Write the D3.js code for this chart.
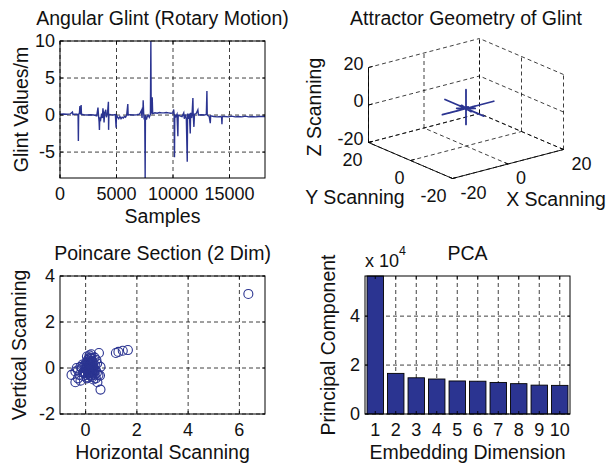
<!DOCTYPE html>
<html lang="en">
<head>
<meta charset="UTF-8" />
<title>Glint analysis</title>
<style>
  body { margin: 0; background: #fff; }
  svg { display: block; font-family: "Liberation Sans", Arial, sans-serif; }
  .grid line { stroke: #000; stroke-width: 0.75; stroke-dasharray: 4,3; fill: none; }
  .frame { fill: none; stroke: #000; stroke-width: 1; }
  .ticks line { stroke: #000; stroke-width: 0.9; }
  .tick-label { font-size: 18px; fill: #111; }
  .label { font-size: 19.5px; fill: #111; }
</style>
</head>
<body>
<svg width="608" height="465"></svg>
<script src="https://d3js.org/d3.v7.min.js"></script>
<script>
// ---- data ----
// angular glint signal, [sample, value]
const glint = [
  [0,0.1],[300,0.15],[600,0.1],[900,0.15],[1100,0.4],[1150,0.05],[1300,0.1],[1500,0.1],[1600,0.05],
  [1625,-3.5],[1650,0.1],[1720,0.3],[1760,1.2],[1790,0.1],[1830,0.4],[1870,1.35],[1900,0.1],[2100,0.05],
  [2400,0.0],[2700,0.05],[3000,0.0],[3250,-0.1],[3320,0.6],[3360,1.0],[3400,0.1],[3460,-0.9],[3490,-2.0],
  [3520,-0.3],[3600,-0.6],[3680,0.2],[3750,-0.4],[3800,0.9],[3850,0.2],[3900,-1.0],[3950,0.3],[4050,0.7],
  [4100,-0.3],[4200,0.2],[4285,1.8],[4300,-2.0],[4330,0.1],[4500,0.05],[4700,0.0],[4900,0.05],[4965,-1.7],
  [5000,0.0],[5100,-0.3],[5200,-0.5],[5300,-0.2],[5400,-0.5],[5500,-0.3],[5600,-0.4],[5700,-0.2],[5800,-0.3],
  [5900,0.0],[6000,1.5],[6030,0.0],[6200,0.05],[6500,0.0],[6800,0.05],[7000,0.1],[7100,0.3],[7200,0.6],
  [7260,-0.4],[7300,1.0],[7340,0.5],[7360,2.0],[7400,0.3],[7450,-0.6],[7500,-0.2],[7535,-8.5],[7560,0.0],
  [7650,-0.6],[7700,-0.3],[7800,0.0],[7900,-0.3],[8000,0.1],[8040,10],[8070,0.2],[8120,0.4],[8160,2.4],
  [8200,0.2],[8400,0.3],[8600,0.25],[8800,0.35],[9000,0.3],[9200,0.3],[9400,0.35],[9600,0.3],[9800,0.25],
  [10000,0.3],[10060,0.75],[10100,0.1],[10130,-5.7],[10160,0.0],[10250,-0.2],[10350,0.1],[10430,-2.85],
  [10460,0.0],[10600,-0.1],[10800,-0.2],[10950,0.3],[11000,-0.5],[11100,0.1],[11180,-0.6],[11260,-6.3],
  [11290,0.2],[11400,-0.5],[11450,0.2],[11525,-2.5],[11560,0.3],[11650,-0.4],[11700,0.5],[11760,2.3],
  [11790,0.0],[11850,-1.6],[11900,0.1],[12050,0.2],[12200,0.7],[12250,0.0],[12500,0.05],[12800,0.0],
  [12950,0.1],[13000,3.25],[13030,0.0],[13200,-0.2],[13300,-1.1],[13330,-0.1],[13600,-0.2],[13900,-0.25],
  [14200,-0.2],[14300,-0.3],[14330,-1.25],[14360,-0.2],[14600,-0.2],[14900,-0.25],[15200,-0.15],[15500,-0.25],
  [15800,-0.2],[16100,-0.25],[16400,-0.15],[16700,-0.25],[17000,-0.2],[17300,-0.25],[17600,-0.2],[18000,-0.2],[18140,-0.2]
];
const glintXTicks = [0, 5000, 10000, 15000];
const glintYTicks = [-5, 0, 5, 10];

// delay-embedded attractor trajectory, [x, y, z]
const attractor = [
  [0,0,0],[0,0,10],[0,0,0],[0,10,0],[0,0,0],[10,0,0],[0,0,0],
  [0,0,-8.5],[0,0,0],[0,-8.5,0],[0,0,0],[-8.5,0,0],[0,0,0],
  [0,0,-6.3],[0,0,0],[0,-6.3,0],[0,0,0],[-6.3,0,0],[0,0,0],
  [0,0,-5.7],[0,0,0],[0,-5.7,0],[0,0,0],[-5.7,0,0],[0,0,0],
  [0,0,3.25],[0,0,0],[0,3.25,0],[0,0,0],[3.25,0,0],[0,0,0],
  [0,0,-3.5],[0,0,0],[0,-3.5,0],[0,0,0],[-3.5,0,0],[0,0,0],
  [0,0,2.4],[0,0,0],[0,2.4,0],[0,0,0],[2.4,0,0],[0,0,0],
  [1.8,-2.0,0.3],[-2.0,1.8,0],[0.4,2.3,-1.6],[-1.6,0,2.3],[1.5,-0.5,-2.0],[0,0,0],
  [0.5,0.3,-0.4],[-0.6,0.2,0.5],[0.3,-0.7,0.2],[-0.3,-0.4,-0.6],[0.7,0.5,0.3],
  [-0.5,0.6,-0.2],[0.2,0.8,-0.5],[0.6,-0.3,0.7],[-0.7,-0.2,0.4],[0,0,0]
];
const attractorTicks = [-20, 0, 20];

// poincare section points, [horizontal, vertical]
const poincare = [
  [0.05,0.1],[0.1,0.2],[0.15,0.05],[0.2,-0.1],[0.12,-0.2],[0.02,-0.05],[-0.05,0.1],[0.08,0.35],[0.18,0.45],
  [0.25,0.3],[0.3,0.1],[0.28,-0.25],[0.2,-0.35],[0.1,-0.4],[0.0,-0.3],[-0.1,-0.2],[-0.15,0.0],[-0.2,0.05],
  [-0.3,-0.1],[-0.35,0.0],[-0.4,-0.15],[-0.55,-0.3],[-0.4,-0.62],[-0.2,-0.55],[-0.3,-0.45],[0.15,0.55],
  [0.05,0.5],[0.22,0.6],[0.35,0.45],[0.52,0.65],[0.45,0.2],[0.4,-0.1],[0.5,-0.3],[0.56,-0.33],[0.46,-0.62],
  [0.58,-0.94],[0.58,0.05],[0.4,-0.45],[0.3,-0.5],[0.35,-0.3],[0.12,0.0],[0.18,0.15],[0.22,0.0],[0.08,-0.1],
  [0.0,0.2],[-0.05,-0.15],[0.25,-0.15],[0.3,0.25],[0.1,0.1],[0.15,-0.3],[0.05,-0.45],[-0.08,-0.35],[0.2,0.25],
  [0.12,0.4],[0.28,0.05],[0.35,-0.05],[0.42,0.35],[-0.25,-0.3],[-0.12,0.15],[0.0,0.0],[0.16,-0.05],[0.26,0.15],
  [0.06,0.25],[0.32,-0.2],[-0.02,-0.22],[0.44,-0.2],[0.38,0.1],[0.1,-0.25],[0.2,0.1],[0.14,0.3],
  [0.18,-0.2],[0.24,-0.3],[0.08,0.05],[0.22,0.4],[0.3,-0.05],[0.15,0.2],[0.1,-0.12],[0.26,-0.4],
  [1.18,0.65],[1.28,0.7],[1.45,0.75],[1.65,0.78],[6.35,3.22]
];
const poincareXTicks = [0, 2, 4, 6];
const poincareYTicks = [-2, 0, 2, 4];

// PCA
const pcaDims = [1, 2, 3, 4, 5, 6, 7, 8, 9, 10];
const pcaValues = [56400, 16600, 14800, 14300, 13500, 13400, 12900, 12400, 11800, 11700];
const pcaYTicks = [0, 20000, 40000];

// ---- drawing ----
const svg = d3.select("svg");
const blue = "#2b3491";

function axes2d(o) {
  const x = d3.scaleLinear().domain(o.xDomain).range([o.left, o.right]);
  const y = d3.scaleLinear().domain(o.yDomain).range([o.bottom, o.top]);
  const g = svg.append("g");
  const grid = g.append("g").attr("class", "grid");
  const data = g.append("g");
  const front = g.append("g");

  grid.selectAll(".gx").data(o.xTicks).join("line").attr("class", "gx")
    .attr("x1", d => x(d)).attr("x2", d => x(d)).attr("y1", o.top).attr("y2", o.bottom);
  grid.selectAll(".gy").data(o.yTicks).join("line").attr("class", "gy")
    .attr("x1", o.left).attr("x2", o.right).attr("y1", d => y(d)).attr("y2", d => y(d));

  front.append("rect").attr("class", "frame")
    .attr("x", o.left).attr("y", o.top)
    .attr("width", o.right - o.left).attr("height", o.bottom - o.top);

  const ticks = front.append("g").attr("class", "ticks");
  o.xTicks.forEach(t => {
    ticks.append("line").attr("x1", x(t)).attr("x2", x(t)).attr("y1", o.bottom).attr("y2", o.bottom - 3);
    ticks.append("line").attr("x1", x(t)).attr("x2", x(t)).attr("y1", o.top).attr("y2", o.top + 3);
  });
  o.yTicks.forEach(t => {
    ticks.append("line").attr("x1", o.left).attr("x2", o.left + 3).attr("y1", y(t)).attr("y2", y(t));
    ticks.append("line").attr("x1", o.right).attr("x2", o.right - 3).attr("y1", y(t)).attr("y2", y(t));
  });

  const fmt = o.yFormat || (d => d);
  front.selectAll(".xl").data(o.xTicks).join("text").attr("class", "tick-label")
    .attr("x", d => x(d)).attr("y", o.bottom + 22).attr("text-anchor", "middle").text(d => d);
  front.selectAll(".yl").data(o.yTicks).join("text").attr("class", "tick-label")
    .attr("x", o.left - 5).attr("y", d => y(d)).attr("dy", "0.35em").attr("text-anchor", "end").text(fmt);

  const mid = (o.left + o.right) / 2;
  front.append("text").attr("class", "label").attr("x", mid).attr("y", o.top - 16)
    .attr("text-anchor", "middle").text(o.title);
  front.append("text").attr("class", "label").attr("x", mid).attr("y", o.bottom + 45)
    .attr("text-anchor", "middle").text(o.xLabel);
  front.append("text").attr("class", "label")
    .attr("transform", `translate(${o.yLabelX},${(o.top + o.bottom) / 2}) rotate(-90)`)
    .attr("text-anchor", "middle").text(o.yLabel);

  return { x, y, data };
}

// 1. angular glint
const a1 = axes2d({
  left: 60, right: 265, top: 41, bottom: 178,
  xDomain: [0, 18140], yDomain: [-8.5, 10],
  xTicks: glintXTicks, yTicks: glintYTicks,
  title: "Angular Glint (Rotary Motion)", xLabel: "Samples", yLabel: "Glint Values/m", yLabelX: 28
});
svg.append("clipPath").attr("id", "clip1").append("rect")
  .attr("x", 60).attr("y", 41).attr("width", 205).attr("height", 137);
a1.data.append("path").datum(glint)
  .attr("clip-path", "url(#clip1)")
  .attr("fill", "none").attr("stroke", blue).attr("stroke-width", 1.4)
  .attr("d", d3.line().x(d => a1.x(d[0])).y(d => a1.y(d[1])));

// 3. poincare section
const a3 = axes2d({
  left: 60, right: 265, top: 276, bottom: 414,
  xDomain: [-1, 7], yDomain: [-2, 4],
  xTicks: poincareXTicks, yTicks: poincareYTicks,
  title: "Poincare Section (2 Dim)", xLabel: "Horizontal Scanning", yLabel: "Vertical Scanning", yLabelX: 26
});
a3.data.selectAll("circle").data(poincare).join("circle")
  .attr("cx", d => a3.x(d[0])).attr("cy", d => a3.y(d[1])).attr("r", 4.5)
  .attr("fill", "none").attr("stroke", blue).attr("stroke-width", 1.1);

// 4. PCA
const a4 = axes2d({
  left: 365, right: 570, top: 276, bottom: 414,
  xDomain: [0.5, 10.5], yDomain: [0, 56400],
  xTicks: pcaDims, yTicks: pcaYTicks, yFormat: d => d / 10000,
  title: "PCA", xLabel: "Embedding Dimension", yLabel: "Principal Component", yLabelX: 335
});
a4.data.selectAll("rect").data(pcaValues).join("rect")
  .attr("x", (d, i) => a4.x(pcaDims[i] - 0.4))
  .attr("width", (d, i) => a4.x(pcaDims[i] + 0.4) - a4.x(pcaDims[i] - 0.4))
  .attr("y", d => a4.y(d)).attr("height", d => a4.y(0) - a4.y(d))
  .attr("fill", blue).attr("stroke", "#000").attr("stroke-width", 0.9);
const mult = svg.append("text").attr("class", "tick-label").attr("x", 365).attr("y", 267);
mult.append("tspan").text("x 10");
mult.append("tspan").attr("dy", -12).attr("font-size", "12.5px").text("4");

// 2. attractor (3D box, fixed view)
const s3 = d3.scaleLinear().domain([-20, 20]).range([-1, 1]);
const view = { cx: 466, cy: 108.5, u: [55.5, -14.5], v: [-42, -18], w: [0, -37.5] };
function proj(p) {
  const u = s3(p[0]), v = s3(p[1]), w = s3(p[2]);
  return [view.cx + u * view.u[0] + v * view.v[0] + w * view.w[0],
          view.cy + u * view.u[1] + v * view.v[1] + w * view.w[1]];
}
const g2 = svg.append("g");
const segs = [];
attractorTicks.forEach(t => {
  segs.push([[t, 20, -20], [t, 20, 20]], [[-20, 20, t], [20, 20, t]]);      // back wall y = 20
  segs.push([[20, t, -20], [20, t, 20]], [[20, -20, t], [20, 20, t]]);      // back wall x = 20
  segs.push([[t, -20, -20], [t, 20, -20]], [[-20, t, -20], [20, t, -20]]);  // floor
});
g2.append("g").attr("class", "grid").selectAll("line").data(segs).join("line")
  .attr("x1", d => proj(d[0])[0]).attr("y1", d => proj(d[0])[1])
  .attr("x2", d => proj(d[1])[0]).attr("y2", d => proj(d[1])[1]);

const axes3 = [
  [[-20, 20, -20], [-20, 20, 20]],
  [[-20, 20, -20], [-20, -20, -20]],
  [[-20, -20, -20], [20, -20, -20]]
];
const line3 = g2.append("g").attr("class", "ticks");
line3.selectAll(".ax").data(axes3).join("line").attr("class", "ax")
  .attr("x1", d => proj(d[0])[0]).attr("y1", d => proj(d[0])[1])
  .attr("x2", d => proj(d[1])[0]).attr("y2", d => proj(d[1])[1]);
attractorTicks.forEach(t => {
  [[[-20, 20, t], [-18.5, 20, t]], [[-20, t, -20], [-18.5, t, -20]], [[t, -20, -20], [t, -18.5, -20]]]
    .forEach(s => {
      const a = proj(s[0]), b = proj(s[1]);
      line3.append("line").attr("x1", a[0]).attr("y1", a[1]).attr("x2", b[0]).attr("y2", b[1]);
    });
  const pz = proj([-20, 20, t]);
  g2.append("text").attr("class", "tick-label").attr("x", pz[0] - 5).attr("y", pz[1] - 4)
    .attr("dy", "0.35em").attr("text-anchor", "end").text(t);
  const py = proj([-20, t, -20]);
  g2.append("text").attr("class", "tick-label").attr("x", py[0] - 6).attr("y", py[1] + 23)
    .attr("text-anchor", "end").text(t);
  const px = proj([t, -20, -20]);
  g2.append("text").attr("class", "tick-label").attr("x", px[0] + 8).attr("y", px[1] + 20)
    .attr("text-anchor", "start").text(t);
});

g2.append("path").datum(attractor)
  .attr("fill", "none").attr("stroke", blue).attr("stroke-width", 1.8).attr("stroke-linejoin", "round")
  .attr("d", d3.line().x(d => proj(d)[0]).y(d => proj(d)[1]));

g2.append("text").attr("class", "label").attr("x", 466).attr("y", 25)
  .attr("text-anchor", "middle").text("Attractor Geometry of Glint");
g2.append("text").attr("class", "label").attr("x", 355).attr("y", 204)
  .attr("text-anchor", "middle").text("Y Scanning");
g2.append("text").attr("class", "label").attr("x", 556).attr("y", 206)
  .attr("text-anchor", "middle").text("X Scanning");
g2.append("text").attr("class", "label").attr("transform", "translate(321,107) rotate(-90)")
  .attr("text-anchor", "middle").text("Z Scanning");
</script>
</body>
</html>
